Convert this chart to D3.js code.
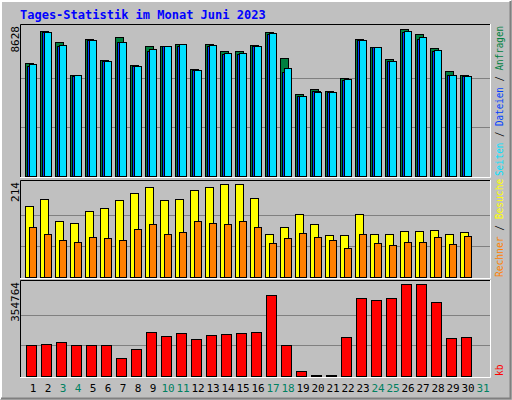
<!DOCTYPE html><html><head><meta charset="utf-8">
<script src="https://cdn.jsdelivr.net/npm/d3@7"></script>
<style>body{margin:0}svg{display:block}text{font-family:"DejaVu Sans Mono",monospace}</style></head><body>
<script>
const days=d3.range(1,32);
const weekend=[3,4,10,11,17,18,24,25,31];
const hits=[6628,8511,7844,5922,8040,6785,8158,6511,7628,7628,7746,6275,7746,7334,7334,7687,8452,6922,4804,5099,4981,5746,8040,7570,6864,8628,8334,7511,6158,5922];
const files=[6471,8432,7609,5844,7962,6726,7844,6432,7354,7628,7648,6197,7648,7138,7138,7609,8354,6079,4667,4961,4903,5648,7962,7570,6746,8472,8040,7334,5922,5883];
const pages=[6589,8452,7707,5922,7981,6746,7864,6452,7452,7628,7746,6216,7687,7216,7216,7628,8393,6334,4687,4942,4922,5687,7981,7570,6746,8511,8158,7393,5922,5863];
const visits=[163,179,128,125,151,158,177,193,207,177,179,200,207,214,214,181,100,114,144,123,97,97,146,100,100,107,107,109,100,104];
const hosts=[114,100,86,81,93,90,86,111,123,100,104,128,125,123,130,114,79,90,102,93,86,67,100,79,74,81,81,93,76,95];
const kbytes=[120853,124752,132549,120853,120853,120853,70173,105260,171534,155940,167636,144245,159839,163737,167636,171534,311880,120853,19493,5198,5198,152042,300185,292388,300185,354764,354764,284591,148143,152042];
const maxHits=8628,maxVisits=214,maxKb=354764;
const title="Tages-Statistik im Monat Juni 2023";

const W=512,H=400;
const svg=d3.select("body").append("svg").attr("width",W).attr("height",H);
svg.append("rect").attr("width",W).attr("height",H).attr("fill","#c0c0c0");
svg.append("path").attr("d","M1,399V1H511").attr("stroke","#fff").attr("stroke-width",2).attr("fill","none");
svg.append("path").attr("d","M1,398.5H510.5V1").attr("stroke","#808080").attr("stroke-width",2).attr("fill","none");
svg.append("text").attr("x",20).attr("y",19).attr("fill","#0000ff").attr("font-weight","bold").attr("font-size",12).text(title);

const x=d3.scaleBand().domain(days).range([25,490]).paddingInner(0).paddingOuter(0);
function panel(y0,y1,top,maxV,leftLabel,rightParts,len){
  const g=svg.append("g");
  g.append("rect").attr("x",20).attr("y",y0).attr("width",471).attr("height",y1-y0).attr("fill","#c0c0c0");
  const y=d3.scaleLinear().domain([0,maxV]).range([y1-1,top]);
  [1/3,2/3].forEach(f=>g.append("line").attr("x1",21).attr("x2",490).attr("y1",Math.round(y(maxV*f))+.5).attr("y2",Math.round(y(maxV*f))+.5).attr("stroke","#808080"));
  g.append("path").attr("d",`M${20.5},${y1}V${y0+.5}H491`).attr("stroke","#000").attr("fill","none");
  g.append("path").attr("d",`M20,${y1+.5}H${490.5}V${y0}`).attr("stroke","#fff").attr("fill","none");
  g.append("text").attr("transform",`translate(19,${y0+2}) rotate(-90)`).attr("text-anchor","end").attr("font-size",11).attr("fill","#000").text(leftLabel);
  const t=g.append("text").attr("transform",`translate(503,${y1-1}) rotate(-90)`).attr("font-size",9.6);
  if(len) t.attr("textLength",len).attr("lengthAdjust","spacingAndGlyphs");
  rightParts.forEach(([s,c])=>t.append("tspan").attr("fill",c).text(s));
  return {g,y,base:y1-1};
}
function bars(p,data,off,w,fill){
  p.g.selectAll(null).data(data).enter().append("rect")
   .attr("x",(d,i)=>x(i+1)+off+.5).attr("y",d=>Math.round(p.y(d))+.5)
   .attr("width",w).attr("height",d=>Math.max(0,p.base-Math.round(p.y(d))))
   .attr("fill",fill).attr("stroke","#000");
}
const p1=panel(24,177,29,maxHits,"8628",[["Seiten","#00e0ff"],[" / ","#000"],["Dateien","#0040ff"],[" / ","#000"],["Anfragen","#008040"]],150);
bars(p1,hits,0,8,"#008040");bars(p1,files,2,8,"#0040ff");bars(p1,pages,4,7,"#00e0ff");
const p2=panel(180,278,184,maxVisits,"214",[["Rechner","#ff8000"],[" / ","#000"],["Besuche","#ffff00"]]);
bars(p2,visits,0,8,"#ffff00");bars(p2,hosts,4,7,"#ff8000");
const p3=panel(280,377,284,maxKb,"354764",[["kb","#ff0000"]]);
bars(p3,kbytes,1,10,"#ff0000");

svg.selectAll(".dl").data(days).enter().append("text")
 .attr("x",d=>x(d)+8).attr("y",392).attr("text-anchor","middle").attr("font-size",11)
 .attr("font-family","DejaVu Sans, sans-serif")
 .attr("fill",d=>weekend.includes(d)?"#008060":"#000").text(d=>d);
</script></body></html>
